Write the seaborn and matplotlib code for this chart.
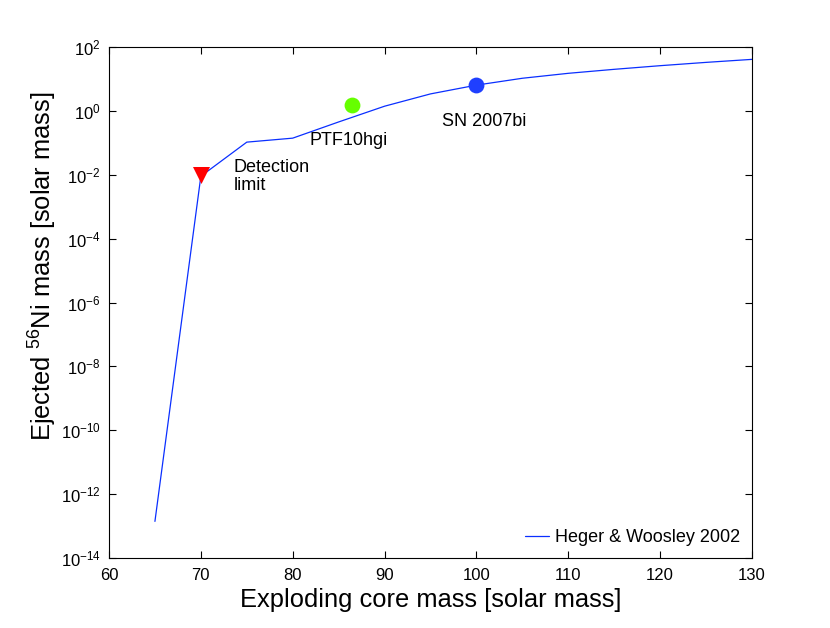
import matplotlib
matplotlib.use("Agg")
import matplotlib.pyplot as plt
import seaborn as sns
import pandas as pd
from matplotlib.ticker import NullLocator, FixedLocator

sns.set_theme(style="white")
plt.rcParams['font.family'] = ['Liberation Sans', 'DejaVu Sans']
plt.rcParams['mathtext.fontset'] = 'custom'
plt.rcParams['mathtext.rm'] = 'Liberation Sans'
plt.rcParams['mathtext.it'] = 'Liberation Sans'
plt.rcParams['text.color'] = 'black'
plt.rcParams['axes.labelcolor'] = 'black'

# Heger & Woosley 2002 model curve
core_mass = [65, 70, 75, 80, 85, 90, 95, 100, 105, 110, 115, 120, 125, 130]
ni_mass = [1.4e-13, 0.009, 0.105, 0.14, 0.45, 1.4, 3.4, 6.4, 10.5, 15.0, 20.0, 26.0, 33.0, 41.0]

# Observations
obs_names = ["Detection limit", "PTF10hgi", "SN 2007bi"]
obs_core = [70, 86.5, 100]
obs_ni = [0.01, 1.5, 6.4]
obs_colors = ["#ff0000", "#66ff00", "#1f3fff"]
obs_markers = ["v", "o", "o"]
obs_sizes = [150, 130, 130]

x_ticks = [60, 70, 80, 90, 100, 110, 120, 130]
y_exps = [2, 0, -2, -4, -6, -8, -10, -12, -14]

df = pd.DataFrame({"core": core_mass, "ni": ni_mass})

fig = plt.figure(figsize=(8.30, 6.28), dpi=100)
ax = fig.add_axes([109/830, 1 - 558/628, (752-109)/830, (558-47)/628])

sns.lineplot(data=df, x="core", y="ni", ax=ax, color="#0a2fff", linewidth=0.9,
             label="Heger & Woosley 2002", zorder=2)

for n, cx, cy, c, m, sz in zip(obs_names, obs_core, obs_ni, obs_colors, obs_markers, obs_sizes):
    sns.scatterplot(x=[cx], y=[cy], ax=ax, color=c, marker=m, s=sz, edgecolor=c,
                    linewidth=0, zorder=3, legend=False)

ax.set_yscale("log")
ax.set_xlim(60, 130)
ax.set_ylim(1e-14, 1e2)
ax.xaxis.set_major_locator(FixedLocator(x_ticks))
ax.set_xticklabels([str(t) for t in x_ticks], fontsize=12)
ax.yaxis.set_major_locator(FixedLocator([10.0**e for e in y_exps]))
ax.yaxis.set_minor_locator(NullLocator())
ylabels = []
for e in y_exps:
    if e >= 0:
        ylabels.append(r"$10^{%d}$" % e)
    else:
        ylabels.append(r"$10^{\u2212%d}$".replace("\\u2212", "\u2212") % (-e))
ax.set_yticklabels(ylabels, fontsize=12)

ax.tick_params(axis="both", which="major", direction="in", length=5, width=0.8,
               top=True, right=True, bottom=True, left=True, colors="black", pad=6)
ax.tick_params(axis="x", pad=7)
for s in ax.spines.values():
    s.set_color("black")
    s.set_linewidth(0.8)

ax.set_xlabel("Exploding core mass [solar mass]", fontsize=18.4)
ax.xaxis.set_label_coords(0.5, -(600 - 558) / 511, transform=ax.transAxes)
ax.xaxis.label.set_va("center")
ax.set_ylabel(r"Ejected $^{56}$Ni mass [solar mass]", fontsize=18.4)
ax.yaxis.set_label_coords(-(109 - 43) / 643, (558 - 266) / 511, transform=ax.transAxes)
ax.yaxis.label.set_va("center")

ax.text(73.6, 0.009, "Detection\nlimit", fontsize=13, va="center", ha="left", linespacing=1.05)
ax.text(81.8, 0.115, "PTF10hgi", fontsize=13, va="center", ha="left")
ax.text(96.2, 0.47, "SN 2007bi", fontsize=13, va="center", ha="left")

leg = ax.legend(loc="lower right", frameon=False, fontsize=13, handlelength=1.3,
                handletextpad=0.35, borderaxespad=0.25)

fig.savefig("out.png", dpi=100, facecolor="white")
